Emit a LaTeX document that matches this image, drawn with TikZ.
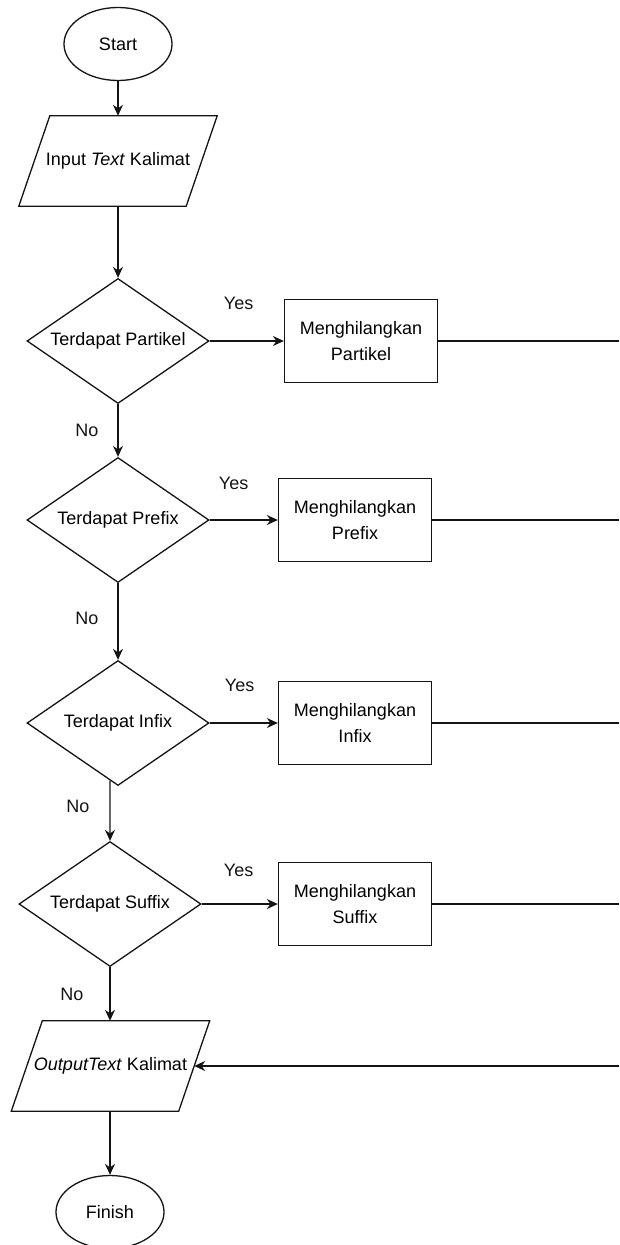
\documentclass[tikz,border=0pt]{standalone}
\usepackage{fontspec}
\setmainfont{Liberation Sans}
\usetikzlibrary{positioning, shapes.geometric, arrows.meta, calc}
\definecolor{FlowBlack}{RGB}{20, 20, 20}

\begin{document}
\begin{tikzpicture}[
    x=1pt, y=-1pt,
    font=\fontsize{18}{26}\selectfont,
    terminal/.style={ellipse, draw=FlowBlack, line width=1.3pt, minimum width=108pt, minimum height=73pt, inner sep=0pt},
    io/.style={rectangle, minimum width=167pt, minimum height=90pt, inner sep=0pt},
    decision/.style={diamond, aspect=1.45, draw=FlowBlack, line width=1.3pt, minimum width=182pt, minimum height=125pt, inner sep=0pt},
    process/.style={rectangle, draw=FlowBlack, line width=1.3pt, minimum width=153pt, minimum height=83pt, align=center, inner sep=2pt},
    lbl/.style={inner sep=0pt, text=FlowBlack},
    arrow/.style={-{Stealth[length=11pt, width=10pt]}, line width=1.3pt, draw=FlowBlack},
    plain/.style={line width=1.3pt, draw=FlowBlack}
  ]
    \useasboundingbox (0,0) rectangle (619,1245);

    % Start and input
    \node[terminal] (start) at (118, 44) {Start};
    \node[io] (input) at (118, 161) {Input \textit{Text} Kalimat};
    \draw[plain] ([xshift=15.5pt]input.north west) -- ([xshift=15.5pt]input.north east)
      -- ([xshift=-15.5pt]input.south east) -- ([xshift=-15.5pt]input.south west) -- cycle;

    % Decisions
    \node[decision] (d1) at (118, 341) {Terdapat Partikel};
    \node[decision] (d2) at (118, 520) {Terdapat Prefix};
    \node[decision] (d3) at (118, 723) {Terdapat Infix};
    \node[decision] (d4) at (110, 904) {Terdapat Suffix};

    % Processes
    \node[process] (b1) at (361, 341) {Menghilangkan\\Partikel};
    \node[process] (b2) at (355, 520) {Menghilangkan\\Prefix};
    \node[process] (b3) at (355, 723) {Menghilangkan\\Infix};
    \node[process] (b4) at (355, 904) {Menghilangkan\\Suffix};

    % Output and finish
    \node[io] (output) at (110.5, 1066) {\textit{OutputText} Kalimat};
    \draw[plain] ([xshift=15.5pt]output.north west) -- ([xshift=15.5pt]output.north east)
      -- ([xshift=-15.5pt]output.south east) -- ([xshift=-15.5pt]output.south west) -- cycle;
    \node[terminal] (finish) at (110, 1212) {Finish};

    % Right edge
    \coordinate (edge) at (619, 0);
    \coordinate (e1) at (b1.east -| edge);
    \coordinate (e2) at (b2.east -| edge);
    \coordinate (e3) at (b3.east -| edge);
    \coordinate (e4) at (b4.east -| edge);
    \coordinate (e5) at (output.east -| edge);

    % Main flow
    \draw[arrow] (start) -- (input);
    \draw[arrow] (input) -- (d1);
    \draw[arrow] (d1) -- (d2);
    \draw[arrow] (d2) -- (d3);
    \draw[arrow] (d3.-98) -- (d4.north);
    \draw[arrow] (d4) -- (output.north -| d4);
    \draw[arrow] (output.south -| finish) -- (finish);

    % Yes branches
    \draw[arrow] (d1) -- (b1);
    \draw[arrow] (d2) -- (b2);
    \draw[arrow] (d3) -- (b3);
    \draw[arrow] (d4) -- (b4);
    \draw[plain] (b1) -- (e1);
    \draw[plain] (b2) -- (e2);
    \draw[plain] (b3) -- (e3);
    \draw[plain] (b4) -- (e4);
    \draw[arrow] (e5) -- (output.east);

    % Labels
    \node[lbl] (yes1) at ($(d1.east)+(29,-38)$) {Yes};
    \node[lbl] (yes2) at ($(d2.east)+(24,-37)$) {Yes};
    \node[lbl] (yes3) at ($(d3.east)+(30,-38)$) {Yes};
    \node[lbl] (yes4) at ($(d4.east)+(37,-34)$) {Yes};
    \node[lbl] (no1) at ($(d1.south)+(-31,26)$) {No};
    \node[lbl] (no2) at ($(d2.south)+(-31,35)$) {No};
    \node[lbl] (no3) at ($(d3.south)+(-40,20)$) {No};
    \node[lbl] (no4) at ($(d4.south)+(-38,27)$) {No};
  \end{tikzpicture}
\end{document}
